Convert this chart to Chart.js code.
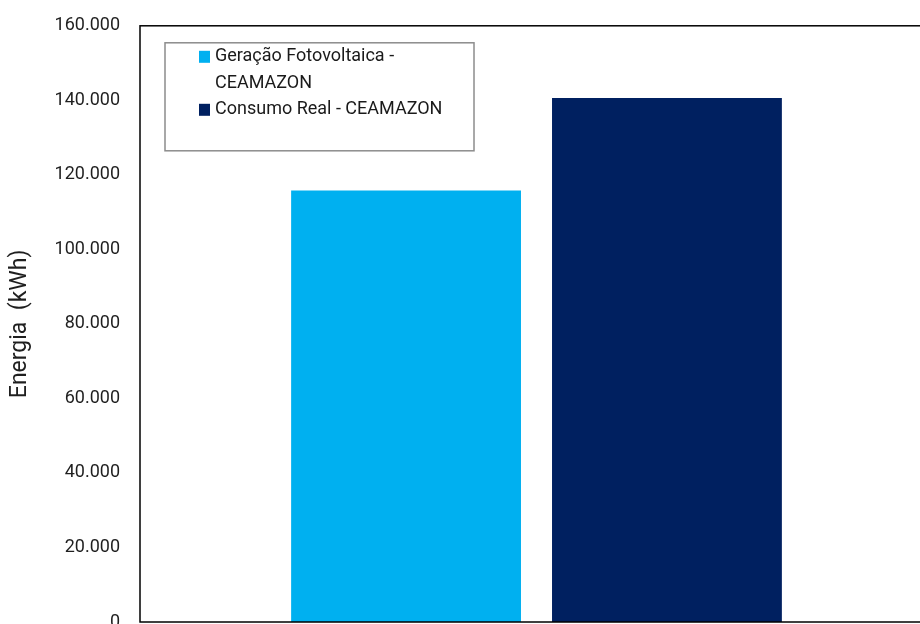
<!DOCTYPE html>
<html>
<head>
<meta charset="utf-8">
<script src="https://cdn.jsdelivr.net/npm/chart.js@4.4.1/dist/chart.umd.min.js"></script>
<style>
  html, body { margin: 0; padding: 0; background: #ffffff; }
  #frame { width: 920px; height: 624px; overflow: hidden; position: relative; }
  #wrap { width: 950px; height: 680px; position: absolute; left: 0; top: -5px; }
</style>
</head>
<body>
<div id="frame">
  <div id="wrap"><canvas id="c" width="950" height="680"></canvas></div>
</div>
<script>
// Annual energy totals (kWh)
const categories = [''];
const seriesNames = ['Geração Fotovoltaica - CEAMAZON', 'Consumo Real - CEAMAZON'];
const geracao = [115800];
const consumo = [140600];
const seriesColors = ['#00B0F0', '#002060'];
const yTicks = [0, 20000, 40000, 60000, 80000, 100000, 120000, 140000, 160000];

const FONT = 'Roboto, "Liberation Sans", Arial, sans-serif';

function fmt(v) {
  return Math.round(v).toString().replace(/\B(?=(\d{3})+(?!\d))/g, '.');
}

// Frame around the plot area
const frameBox = {
  id: 'frameBox',
  afterDatasetsDraw(chart) {
    const { ctx, chartArea: a } = chart;
    ctx.save();
    ctx.strokeStyle = '#000000';
    ctx.lineWidth = 1.5;
    ctx.strokeRect(a.left, a.top, a.right - a.left, a.bottom - a.top);
    ctx.restore();
  }
};

// Boxed legend inside the plot, with word wrapping
const boxLegend = {
  id: 'boxLegend',
  afterDraw(chart) {
    const { ctx, chartArea: a } = chart;
    const x = a.left + 25, y = a.top + 17, w = 309, h = 108;
    const maxText = 250, lineH = 27;
    ctx.save();
    ctx.fillStyle = '#ffffff';
    ctx.fillRect(x, y, w, h);
    ctx.strokeStyle = '#8c8c8c';
    ctx.lineWidth = 1.5;
    ctx.strokeRect(x, y, w, h);
    ctx.font = '18px ' + FONT;
    ctx.textBaseline = 'middle';
    let cy = y + 14;
    chart.data.datasets.forEach(ds => {
      const words = ds.label.split(' ');
      const lines = [];
      let cur = '';
      words.forEach(wd => {
        const test = cur ? cur + ' ' + wd : wd;
        if (ctx.measureText(test).width > maxText && cur) { lines.push(cur); cur = wd; }
        else cur = test;
      });
      if (cur) lines.push(cur);
      ctx.fillStyle = ds.backgroundColor;
      ctx.fillRect(x + 34, cy - 6, 11, 12);
      ctx.fillStyle = '#1a1a1a';
      lines.forEach((ln, i) => ctx.fillText(ln, x + 50, cy + i * lineH));
      cy += lines.length * lineH - 1;
    });
    ctx.restore();
  }
};

new Chart(document.getElementById('c'), {
  type: 'bar',
  data: {
    labels: categories,
    datasets: [
      { label: seriesNames[0], data: geracao, backgroundColor: seriesColors[0] },
      { label: seriesNames[1], data: consumo, backgroundColor: seriesColors[1] }
    ]
  },
  options: {
    responsive: false,
    animation: false,
    devicePixelRatio: 1,
    layout: { padding: { left: 0, right: 17, top: 15, bottom: 53 } },
    datasets: { bar: { barPercentage: 0.881, categoryPercentage: 0.658 } },
    plugins: { legend: { display: false }, tooltip: { enabled: false } },
    scales: {
      x: {
        display: false
      },
      y: {
        min: 0, max: 160000,
        afterFit(scale) { scale.width = 140; },
        afterBuildTicks(scale) { scale.ticks = yTicks.map(v => ({ value: v })); },
        grid: { display: false, drawTicks: false },
        border: { display: false },
        ticks: {
          padding: 20,
          color: '#1f1f1f',
          font: { family: FONT, size: 18 },
          callback: v => fmt(v)
        },
        title: {
          display: true,
          text: 'Energia  (kWh)',
          color: '#1f1f1f',
          font: { family: FONT, size: 23 },
          padding: { top: 6, bottom: 0 }
        }
      }
    }
  },
  plugins: [frameBox, boxLegend]
});
</script>
</body>
</html>
